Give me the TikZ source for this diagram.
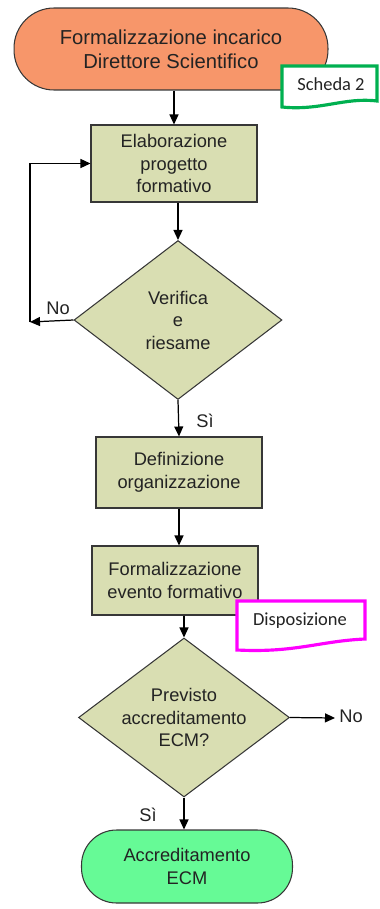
\documentclass[tikz,border=0pt]{standalone}
\usepackage{fontspec}
\setmainfont{Liberation Sans}
\newfontfamily\notefont{Carlito}
\usetikzlibrary{shapes.geometric,arrows.meta,positioning}
\definecolor{termorange}{RGB}{247,150,106}
\definecolor{boxolive}{RGB}{217,222,178}
\definecolor{termgreen}{RGB}{102,250,150}
\definecolor{schedagreen}{RGB}{0,176,80}
\definecolor{dispmagenta}{RGB}{255,0,255}
\definecolor{edgegray}{RGB}{55,55,55}
\definecolor{textgray}{RGB}{35,35,35}
\tikzset{
  terminal/.style={draw=edgegray, line width=0.6pt, align=center, inner sep=0pt, text=textgray},
  procbox/.style={draw=edgegray, line width=0.6pt, fill=boxolive, minimum width=3.32cm,
    align=center, inner sep=0pt, text=textgray, font=\fontsize{10.4}{13}\selectfont},
  decision/.style={diamond, draw=edgegray, line width=0.6pt, fill=boxolive, aspect=1.33,
    inner sep=-1mm, align=center, text=textgray, font=\fontsize{10.4}{12.8}\selectfont},
  flowarrow/.style={-{Triangle[length=2mm,width=1.8mm]}, line width=0.7pt},
  noteline/.style={line width=1.8pt, fill=white},
  notetext/.style={text=textgray, font=\notefont\fontsize{10.5}{12}\selectfont},
  lbl/.style={text=textgray, font=\fontsize{10.4}{12}\selectfont}
}
\begin{document}
\begin{tikzpicture}[x=0.02cm,y=-0.02cm]
\useasboundingbox (0,0) rectangle (379,909);
% start and process boxes
\node[terminal, fill=termorange, minimum width=6.28cm, minimum height=1.64cm, rounded corners=8mm,
  font=\fontsize{11.5}{13.7}\selectfont] (start) at (171,49) {Formalizzazione incarico\\Direttore Scientifico};
\draw[noteline, draw=schedagreen] (282,66) -- (377,66) -- (377,101)
  .. controls (345,97) and (320,111) .. (282,107) -- cycle;
\node[notetext] (scheda) at (331,84) {Scheda 2};
\node[procbox, minimum height=1.54cm] (elab) at (174,163.5) {Elaborazione\\progetto\\formativo};
\node[decision, minimum width=4.16cm, minimum height=3.18cm] (check1) at (178,320) {Verifica\\e\\riesame};
\node[procbox, minimum height=1.42cm] (defin) at (179,472.5) {Definizione\\organizzazione};
\node[procbox, minimum height=1.38cm] (evento) at (175,580.5) {Formalizzazione\\evento formativo};
\draw[noteline, draw=dispmagenta] (237,601) -- (365,601) -- (365,639)
  .. controls (320,641) and (295,653) .. (237,650) -- cycle;
\node[notetext] (dispos) at (300,621) {Disposizione};
\node[decision, minimum width=4.22cm, minimum height=3.18cm] (check2) at (184,717.5) {Previsto\\accreditamento\\ECM?};
\node[terminal, fill=termgreen, minimum width=4.22cm, minimum height=1.46cm, rounded corners=7mm,
  font=\fontsize{10.4}{13}\selectfont] (finish) at (187,866.5) {Accreditamento\\ECM};
% connectors
\coordinate (loopturn) at (30,322);
\coordinate (noend) at (335,718);
\draw[flowarrow] (start.south -| elab.north) -- (elab.north);
\draw[flowarrow] (check1.north |- elab.south) -- (check1.north);
\draw[flowarrow] (check1.west) -- (loopturn);
\draw[flowarrow] (loopturn) |- (elab.west);
\draw[flowarrow] (check1.south) -- (defin.north);
\draw[flowarrow] (defin.south) -- (defin.south |- evento.north);
\draw[flowarrow] (check2.north |- evento.south) -- (check2.north);
\draw[flowarrow] (check2.east) -- (noend);
\draw[flowarrow] (check2.south) -- (check2.south |- finish.north);
% labels
\node[lbl] (lblno1) at (58,308) {No};
\node[lbl] (lblsi1) at (205,421) {Sì};
\node[lbl] (lblno2) at (351,716) {No};
\node[lbl] (lblsi2) at (148,815) {Sì};
\end{tikzpicture}
\end{document}
